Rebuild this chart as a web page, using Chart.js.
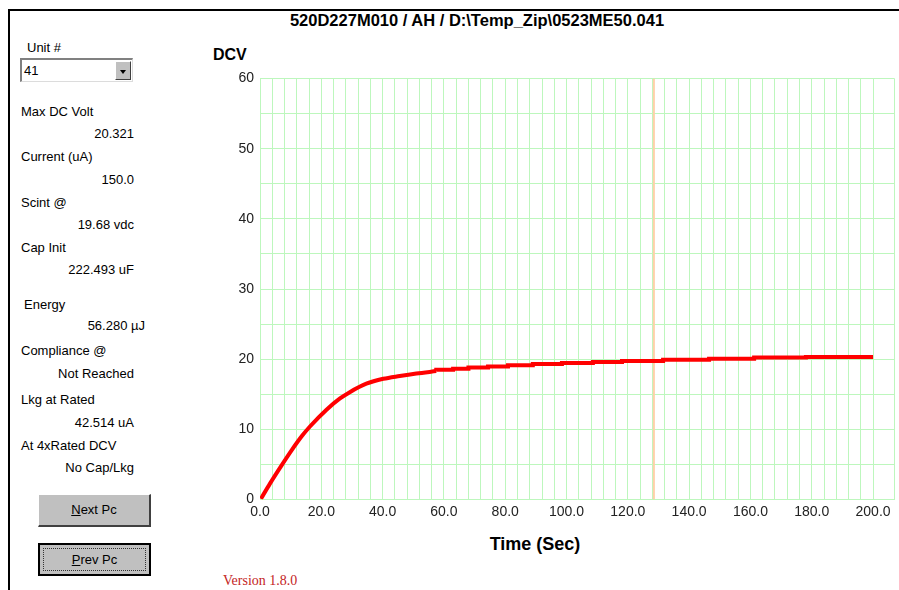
<!DOCTYPE html>
<html>
<head>
<meta charset="utf-8">
<script src="https://cdn.jsdelivr.net/npm/chart.js@4"></script>
<style>
  body { margin: 0; width: 899px; height: 590px; background: #fff; position: relative; overflow: hidden;
         font-family: Arial, "Liberation Sans", sans-serif; font-size: 13px; color: #000; }
  .t { position: absolute; white-space: nowrap; line-height: 15px; }
  .r { position: absolute; white-space: nowrap; line-height: 15px; text-align: right; left: 0; }
  #frameTop { position: absolute; left: 8px; top: 9px; width: 891px; height: 2px; background: #000; }
  #frameLeft { position: absolute; left: 8px; top: 9px; width: 2px; height: 581px; background: #000; }
  #title { position: absolute; left: 177px; width: 600px; top: 11px; text-align: center; font-weight: bold; font-size: 16.5px; }
  #combo { position: absolute; left: 20px; top: 58px; width: 110px; height: 21px; background: #fff;
           border-top: 2px solid #808080; border-left: 2px solid #808080; border-bottom: 1px solid #dcdcdc; border-right: 1px solid #dcdcdc; }
  #combo span { position: absolute; left: 2px; top: 3px; }
  #combo .btn { position: absolute; right: 1px; top: 1px; width: 16px; height: 19px; background: #c0c0c0;
                border-top: 1px solid #fff; border-left: 1px solid #fff; border-right: 1px solid #404040; border-bottom: 1px solid #404040; box-sizing: border-box; }
  #combo .btn i { position: absolute; left: 4px; top: 8px; width: 0; height: 0; border-left: 3px solid transparent; border-right: 3px solid transparent; border-top: 4px solid #000; }
  .button { position: absolute; left: 38px; width: 113px; height: 33px; background: #c0c0c0; box-sizing: border-box;
            border-top: 1px solid #fff; border-left: 1px solid #fff; border-right: 2px solid #404040; border-bottom: 2px solid #404040;
            text-align: center; line-height: 30px; }
  #prev { border: 2px solid #000; }
  #prev .focus { position: absolute; left: 3px; top: 3px; right: 3px; bottom: 3px; border: 1px dotted #333; }
  #prev span { position: relative; }
  #version { position: absolute; left: 223px; top: 573px; font-family: "Liberation Serif", "Times New Roman", serif; font-size: 14px; color: #c41e1e; }
  #dcv { position: absolute; left: 213px; top: 46px; font-weight: bold; font-size: 16px; }
  #xtitle { position: absolute; left: 435px; width: 200px; text-align: center; top: 534px; font-weight: bold; font-size: 18px; }
  #chartBox { position: absolute; left: 200px; top: 40px; }
</style>
</head>
<body>
<div id="frameTop"></div>
<div id="frameLeft"></div>
<div id="title">520D227M010 / AH / D:\Temp_Zip\0523ME50.041</div>

<div class="t" style="left:27px; top:40px;">Unit #</div>
<div id="combo"><span>41</span><div class="btn"><i></i></div></div>

<div class="t" style="left:21px; top:104px;">Max DC Volt</div>
<div class="r" style="width:134px; top:126px;">20.321</div>
<div class="t" style="left:21px; top:149px;">Current (uA)</div>
<div class="r" style="width:134px; top:172px;">150.0</div>
<div class="t" style="left:21px; top:195px;">Scint @</div>
<div class="r" style="width:134px; top:217px;">19.68 vdc</div>
<div class="t" style="left:21px; top:240px;">Cap Init</div>
<div class="r" style="width:134px; top:262px;">222.493 uF</div>
<div class="t" style="left:24px; top:297px;">Energy</div>
<div class="r" style="width:145px; top:318px;">56.280 µJ</div>
<div class="t" style="left:21px; top:343px;">Compliance @</div>
<div class="r" style="width:134px; top:366px;">Not Reached</div>
<div class="t" style="left:21px; top:392px;">Lkg at Rated</div>
<div class="r" style="width:134px; top:415px;">42.514 uA</div>
<div class="t" style="left:21px; top:438px;">At 4xRated DCV</div>
<div class="r" style="width:134px; top:460px;">No Cap/Lkg</div>

<div class="button" style="top:494px;"><u>N</u>ext Pc</div>
<div class="button" id="prev" style="top:543px;"><div class="focus"></div><span><u>P</u>rev Pc</span></div>

<div id="dcv">DCV</div>
<div id="xtitle">Time (Sec)</div>
<div id="version">Version 1.8.0</div>

<div id="chartBox"><canvas id="myChart" width="699" height="490"></canvas></div>

<script>
// readings taken off the trace (seconds, volts)
const riseTime = [0.3, 3.3, 7.1, 10.3, 13.6, 16.3, 21.7, 26.1, 29.3, 34.7, 40.2, 45.6, 51.0, 57.5];
const riseVolts = [0.1, 2.3, 4.9, 7.0, 9.0, 10.4, 12.8, 14.4, 15.3, 16.5, 17.2, 17.6, 17.95, 18.3];

// flat part of the charge is stepped (ADC counts)
const holdTime = [57.5, 63.0, 68.0, 74.4, 80.9, 89.0, 98.5, 108.6, 118.1, 131.5, 146.5, 161.2, 178.1, 200.0];
const holdVolts = [18.35, 18.5, 18.65, 18.8, 18.97, 19.15, 19.3, 19.45, 19.58, 19.75, 19.92, 20.07, 20.25, 20.3];

// cursor line
const cursorTime = 128.5;
const yRange = [0, 60];

const xMax = 207;
const xLabelStep = 20;
const yLabelStep = 10;

function pts(xs, ys) {
  return xs.map((x, i) => ({ x: x, y: ys[i] }));
}

const gridColor = '#bdf7bd';
const curveColor = '#ff0000';

new Chart(document.getElementById('myChart'), {
  type: 'line',
  data: {
    datasets: [
      {
        data: pts(riseTime, riseVolts),
        borderColor: curveColor,
        borderWidth: 4,
        pointRadius: 0,
        cubicInterpolationMode: 'monotone'
      },
      {
        data: pts(holdTime, holdVolts),
        borderColor: curveColor,
        borderWidth: 4,
        pointRadius: 0,
        stepped: 'after'
      },
      {
        data: pts([cursorTime, cursorTime], yRange),
        borderColor: '#ffd0a8',
        borderWidth: 2,
        pointRadius: 0
      }
    ]
  },
  options: {
    responsive: false,
    animation: false,
    devicePixelRatio: 1,
    layout: { padding: { top: 38.5, right: 4.5, left: 0, bottom: 0 } },
    plugins: {
      legend: { display: false },
      tooltip: { enabled: false }
    },
    scales: {
      x: {
        type: 'linear',
        min: 0,
        max: xMax,
        afterFit: function (s) { s.height = 30.5; },
        grid: { color: gridColor, drawTicks: false },
        border: { display: false },
        ticks: {
          stepSize: 4,
          autoSkip: false,
          maxRotation: 0,
          padding: 4,
          color: '#222',
          font: { family: 'Arial, "Liberation Sans"', size: 14 },
          callback: function (v) {
            return (v % xLabelStep === 0 && v <= 200) ? v.toFixed(1) : '';
          }
        }
      },
      y: {
        min: yRange[0],
        max: yRange[1],
        afterFit: function (s) { s.width = 60; },
        grid: { color: gridColor, drawTicks: false },
        border: { display: false },
        ticks: {
          stepSize: 5,
          autoSkip: false,
          padding: 6,
          color: '#222',
          font: { family: 'Arial, "Liberation Sans"', size: 14 },
          callback: function (v) {
            return v % yLabelStep === 0 ? String(v) : '';
          }
        }
      }
    }
  }
});
</script>
</body>
</html>
